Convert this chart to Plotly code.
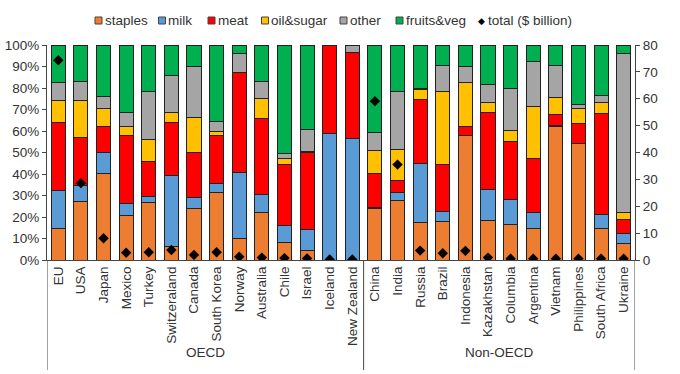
import plotly.graph_objects as go

countries = ["EU", "USA", "Japan", "Mexico", "Turkey", "Switzeraland", "Canada", "South Korea",
             "Norway", "Australia", "Chile", "Israel", "Iceland", "New Zealand",
             "China", "India", "Russia", "Brazil", "Indonesia", "Kazakhstan", "Columbia",
             "Argentina", "Vietnam", "Philippines", "South Africa", "Ukraine"]

staples = [14.5, 27.2, 40.4, 20.8, 26.9, 6.5, 23.8, 31.6, 9.8, 22.1, 8.2, 4.4, 0, 0,
           23.8, 27.7, 17.4, 17.9, 57.9, 18.4, 16.3, 14.5, 62.2, 54.1, 14.8, 7.8]
milk = [17.8, 7.5, 9.8, 5.3, 2.6, 32.8, 5.3, 4.2, 31.1, 8.5, 7.8, 9.6, 58.8, 56.5,
        0.4, 3.7, 27.7, 4.7, 0.2, 14.6, 12.0, 7.6, 0.3, 0.2, 6.2, 4.3]
meat = [31.7, 22.5, 11.7, 31.8, 16.1, 24.5, 20.7, 22.1, 46.2, 35.0, 28.3, 35.8, 41.2, 39.9,
        16.2, 5.6, 29.5, 21.7, 4.1, 35.4, 26.9, 24.9, 5.2, 9.2, 47.1, 6.6]
oil_sugar = [10.3, 16.8, 8.4, 4.3, 10.4, 4.6, 16.6, 2.0, 0.3, 9.5, 2.7, 0.7, 0, 0,
             10.6, 14.6, 4.7, 34.2, 20.5, 4.7, 5.0, 24.5, 7.7, 7.0, 5.3, 3.4]
other = [8.1, 9.2, 5.9, 6.2, 22.4, 17.6, 23.5, 4.6, 8.7, 8.1, 2.5, 10.2, 0, 3.6,
         8.4, 26.9, 0.3, 12.0, 7.5, 8.5, 19.4, 20.7, 15.1, 1.8, 3.1, 74.0]
fruits_veg = [17.6, 16.8, 23.8, 31.6, 21.6, 14.0, 10.1, 35.5, 3.9, 16.8, 50.5, 39.3, 0, 0,
              40.6, 21.5, 20.4, 9.5, 9.8, 18.4, 20.4, 7.8, 9.5, 27.7, 23.5, 3.9]
total_bn = [74.3, 28.6, 8.1, 2.7, 2.9, 3.7, 1.9, 2.9, 1.2, 0.9, 0.7, 0.6, 0.2, 0.2,
            59.1, 35.5, 3.5, 2.5, 3.4, 0.9, 0.5, 0.5, 0.5, 0.5, 0.5, 0.5]

groups = ["OECD", "Non-OECD"]

series = [
    ("staples", staples, "#ED7D31"),
    ("milk", milk, "#5B9BD5"),
    ("meat", meat, "#FF0000"),
    ("oil&sugar", oil_sugar, "#FFC000"),
    ("other", other, "#A5A5A5"),
    ("fruits&veg", fruits_veg, "#00B050"),
]

FONT = "Liberation Sans, Arial, sans-serif"
TXT = "#333333"

fig = go.Figure()
for name, vals, col in series:
    fig.add_trace(go.Bar(x=countries, y=vals, name=name,
                         marker=dict(color=col, line=dict(color="#222222", width=1)),
                         showlegend=False))

fig.add_trace(go.Scatter(x=countries, y=total_bn, mode="markers", name="total ($ billion)",
                         yaxis="y2", showlegend=False,
                         marker=dict(symbol="diamond", size=8, color="black")))

W, H = 680, 374
ml, mr, mt, mb = 47, 45, 45, 114
pw, ph = W - ml - mr, H - mt - mb

def px(x):
    return (x - ml) / pw

def py(y):
    return (H - mb - y) / ph

shapes = []
annotations = []

# custom legend
leg = [("staples", "#ED7D31", 98.5), ("milk", "#5B9BD5", 162), ("meat", "#FF0000", 211.5),
       ("oil&sugar", "#FFC000", 265), ("other", "#A5A5A5", 343.5), ("fruits&veg", "#00B050", 399.5)]
ly = 20.5
for name, col, cx in leg:
    shapes.append(dict(type="rect", xref="paper", yref="paper",
                       x0=px(cx - 3.5), x1=px(cx + 3.5), y0=py(ly + 3.5), y1=py(ly - 3.5),
                       fillcolor=col, line=dict(color="#444444", width=1)))
    annotations.append(dict(xref="paper", yref="paper", x=px(cx + 4), y=py(ly), text=name,
                            showarrow=False, xanchor="left", yanchor="middle",
                            font=dict(size=13.5, color=TXT, family=FONT)))
annotations.append(dict(xref="paper", yref="paper", x=px(481.5), y=py(ly), text="\u25c6",
                        showarrow=False, xanchor="center", yanchor="middle",
                        font=dict(size=9, color="black", family="DejaVu Sans")))
annotations.append(dict(xref="paper", yref="paper", x=px(486), y=py(ly), text="total ($ billion)",
                        showarrow=False, xanchor="left", yanchor="middle",
                        font=dict(size=13.5, color=TXT, family=FONT)))

# group separators and labels
n_oecd = 14
for xv in [-0.5, n_oecd - 0.5, len(countries) - 0.5]:
    shapes.append(dict(type="line", xref="x", yref="paper", x0=xv, x1=xv, y0=0, y1=py(370),
                       line=dict(color="#444444", width=1)))
annotations.append(dict(xref="x", yref="paper", x=(n_oecd - 1) / 2, y=py(352), text=groups[0],
                        showarrow=False, xanchor="center", yanchor="middle",
                        font=dict(size=13.5, color=TXT, family=FONT)))
annotations.append(dict(xref="x", yref="paper", x=(n_oecd + len(countries) - 1) / 2, y=py(352),
                        text=groups[1], showarrow=False, xanchor="center", yanchor="middle",
                        font=dict(size=13.5, color=TXT, family=FONT)))

fig.update_layout(
    width=W, height=H,
    margin=dict(l=ml, r=mr, t=mt, b=mb, autoexpand=False),
    barmode="stack", bargap=0.38,
    plot_bgcolor="white", paper_bgcolor="white",
    font=dict(family=FONT, size=13.5, color=TXT),
    xaxis=dict(range=[-0.5, len(countries) - 0.5], tickangle=-90, showline=True,
               linecolor="#444444", linewidth=1, ticks="", showgrid=False, automargin=False,
               tickfont=dict(size=13.5, color=TXT, family=FONT)),
    yaxis=dict(range=[0, 100], dtick=10, ticksuffix="%", showline=True, linecolor="#444444",
               linewidth=1, ticks="outside", ticklen=4, tickcolor="#444444", showgrid=False,
               zeroline=False, automargin=False,
               tickfont=dict(size=13.5, color=TXT, family=FONT)),
    yaxis2=dict(range=[0, 80], dtick=10, overlaying="y", side="right", showline=True,
                linecolor="#444444", linewidth=1, ticks="outside", ticklen=4,
                tickcolor="#444444", showgrid=False, zeroline=False, automargin=False,
                tickfont=dict(size=13.5, color=TXT, family=FONT)),
    shapes=shapes, annotations=annotations, showlegend=False,
)

fig.write_html("out.html", config={"displayModeBar": False},
               post_script="document.body.style.margin='0px';document.body.style.overflow='hidden';")
